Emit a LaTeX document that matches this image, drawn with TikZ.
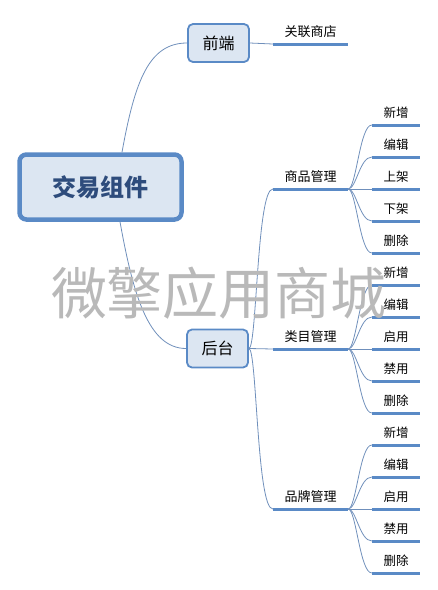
\documentclass[tikz,border=0pt]{standalone}
\usepackage{fontspec}
\setmainfont{Noto Sans CJK SC}
\usetikzlibrary{positioning}

\definecolor{boxfill}{HTML}{DCE6F2}
\definecolor{boxline}{HTML}{5A8AC6}
\definecolor{linkline}{HTML}{6F8FBB}
\definecolor{roottext}{HTML}{2E4C7C}

\tikzset{
  roottopic/.style={draw=boxline, line width=4.5pt, fill=boxfill, rounded corners=7pt,
    minimum width=162pt, minimum height=65pt, text=roottext,
    font=\fontsize{24}{28}\selectfont\bfseries},
  maintopic/.style={draw=boxline, line width=1.8pt, fill=boxfill, rounded corners=5pt,
    minimum width=61pt, minimum height=38pt, font=\fontsize{16}{19}\selectfont},
  subtopic/.style={anchor=south, minimum width=75pt, inner xsep=0pt, inner ysep=6pt,
    font=\fontsize{13}{15}\selectfont},
  leaf/.style={anchor=south, minimum width=48pt, inner xsep=0pt, inner ysep=6pt,
    font=\fontsize{12.5}{15}\selectfont},
  uline/.style={draw=boxline, line width=3pt},
  link/.style={draw=linkline, line width=0.8pt}
}

\begin{document}
\begin{tikzpicture}[x=1pt, y=-1pt]
\useasboundingbox (0,0) rectangle (438,590);

% Define nodes
\node[roottopic] (root) at (100.5,187) {交易组件};
\node[maintopic] (front) at (218.5,43) {前端};
\node[maintopic] (back) at (217.5,348.5) {后台};

\node[subtopic] (shop) at (310.5,44) {关联商店};
\node[subtopic] (goods) at (310.5,189) {商品管理};
\node[subtopic] (cat) at (310.5,349) {类目管理};
\node[subtopic] (brand) at (310.5,509) {品牌管理};

\node[leaf] (g1) at (396,125) {新增};
\node[leaf] (g2) at (396,157) {编辑};
\node[leaf] (g3) at (396,189) {上架};
\node[leaf] (g4) at (396,221) {下架};
\node[leaf] (g5) at (396,253) {删除};

\node[leaf] (c1) at (396,285) {新增};
\node[leaf] (c2) at (396,317) {编辑};
\node[leaf] (c3) at (396,349) {启用};
\node[leaf] (c4) at (396,381) {禁用};
\node[leaf] (c5) at (396,413) {删除};

\node[leaf] (b1) at (396,445) {新增};
\node[leaf] (b2) at (396,477) {编辑};
\node[leaf] (b3) at (396,509) {启用};
\node[leaf] (b4) at (396,541) {禁用};
\node[leaf] (b5) at (396,573) {删除};

% Underlines
\foreach \n in {shop,goods,cat,brand,g1,g2,g3,g4,g5,c1,c2,c3,c4,c5,b1,b2,b3,b4,b5}
  \draw[uline] (\n.south west) -- (\n.south east);

% Draw connections
\draw[link] ([xshift=21.5pt]root.north) .. controls +(13,-72) and +(-38,0) .. (front.west);
\draw[link] ([xshift=19.5pt]root.south) .. controls +(13,72) and +(-38,0) .. (back.west);
\draw[link] (front.east) -- (shop.south west);
\draw[link] (back.east) .. controls +(8,0) and +(-16,0) .. (goods.south west);
\draw[link] (back.east) -- (cat.south west);
\draw[link] (back.east) .. controls +(8,0) and +(-16,0) .. (brand.south west);

\foreach \p/\l in {goods/g, cat/c, brand/b} {
  \foreach \i in {1,2,4,5}
    \draw[link] (\p.south east) .. controls +(8,0) and +(-12,0) .. (\l\i.south west);
  \draw[link] (\p.south east) -- (\l3.south west);
}

% Watermark
\node[text=gray!55, font=\fontsize{56}{60}\selectfont] (mark) at (219,293) {微擎应用商城};

\end{tikzpicture}
\end{document}
